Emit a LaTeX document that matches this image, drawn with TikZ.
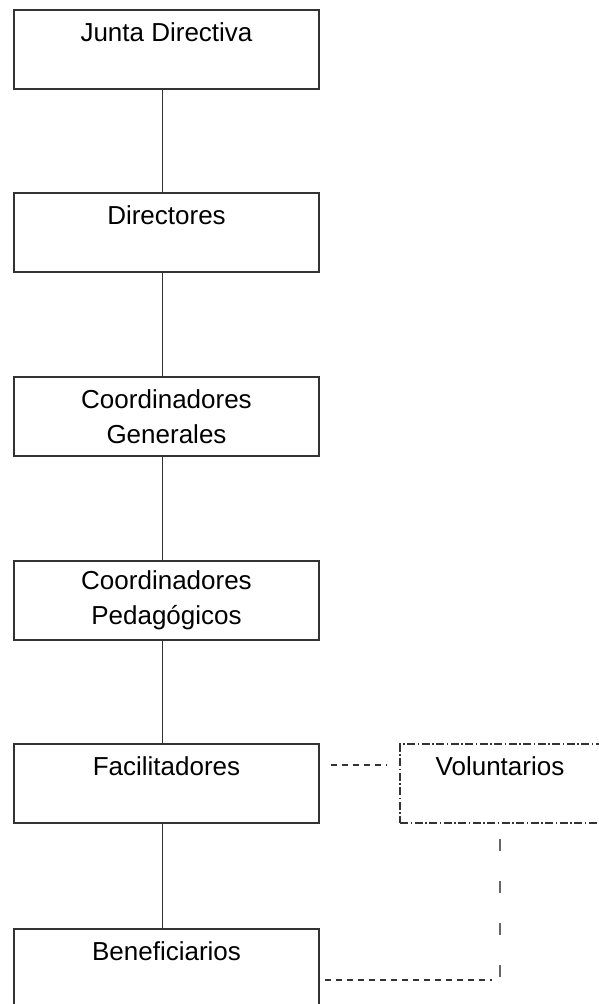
\documentclass[tikz,border=0pt]{standalone}
\usepackage{fontspec}
\setmainfont{Liberation Sans}
\begin{document}
\begin{tikzpicture}[x=1pt,y=1pt,
		box/.style={draw=black!80, line width=1.3pt, minimum width=305pt, minimum height=79pt, inner sep=0pt, outer sep=0pt, align=center, font=\fontsize{26}{35}\selectfont},
		volbox/.style={box, minimum width=200pt, dash pattern=on 8pt off 2.5pt on 1.5pt off 2.5pt},
		link/.style={draw=black!80, line width=1.3pt},
		fine/.style={draw=black!80, line width=1.3pt, dash pattern=on 6pt off 5pt},
		sparse/.style={draw=black!60, line width=1.6pt, dash pattern=on 12pt off 30pt}]
			\useasboundingbox (0,0) rectangle (598,-1004);

			\node[box] (jd) at (166.5,-49.5) {Junta Directiva\\ \mbox{}};
			\node[box] (dir) at (166.5,-232.5) {Directores\\ \mbox{}};
			\node[box] (cg) at (166.5,-416.5) {Coordinadores\\ Generales};
			\node[box] (cp) at (166.5,-600.5) {Coordinadores\\ Pedagógicos};
			\node[box] (fac) at (166.5,-783.5) {Facilitadores\\ \mbox{}};
			\node[box] (ben) at (166.5,-968.5) {Beneficiarios\\ \mbox{}};
			\node[volbox] (vol) at (500,-783.5) {Voluntarios\\ \mbox{}};

			\path[link] ([xshift=-4pt]jd.south) -- ([xshift=-4pt]dir.north);
			\path[link] ([xshift=-4pt]dir.south) -- ([xshift=-4pt]cg.north);
			\path[link] ([xshift=-4pt]cg.south) -- ([xshift=-4pt]cp.north);
			\path[link] ([xshift=-4pt]cp.south) -- ([xshift=-4pt]fac.north);
			\path[link] ([xshift=-4pt]fac.south) -- ([xshift=-4pt]ben.north);

			\path[fine, shorten <=12pt, shorten >=13pt] ([yshift=-21pt]fac.north east) -- ([yshift=-21pt]vol.north west);
			\path ([yshift=-51pt]ben.north east) coordinate (h);
			\coordinate (k) at (h -| vol.south);
			\path[fine, shorten <=6pt, shorten >=8pt] (h) -- (k);
			\path[sparse, shorten <=3pt, shorten >=15pt] (k) -- (vol.south);
		\end{tikzpicture}
\end{document}
